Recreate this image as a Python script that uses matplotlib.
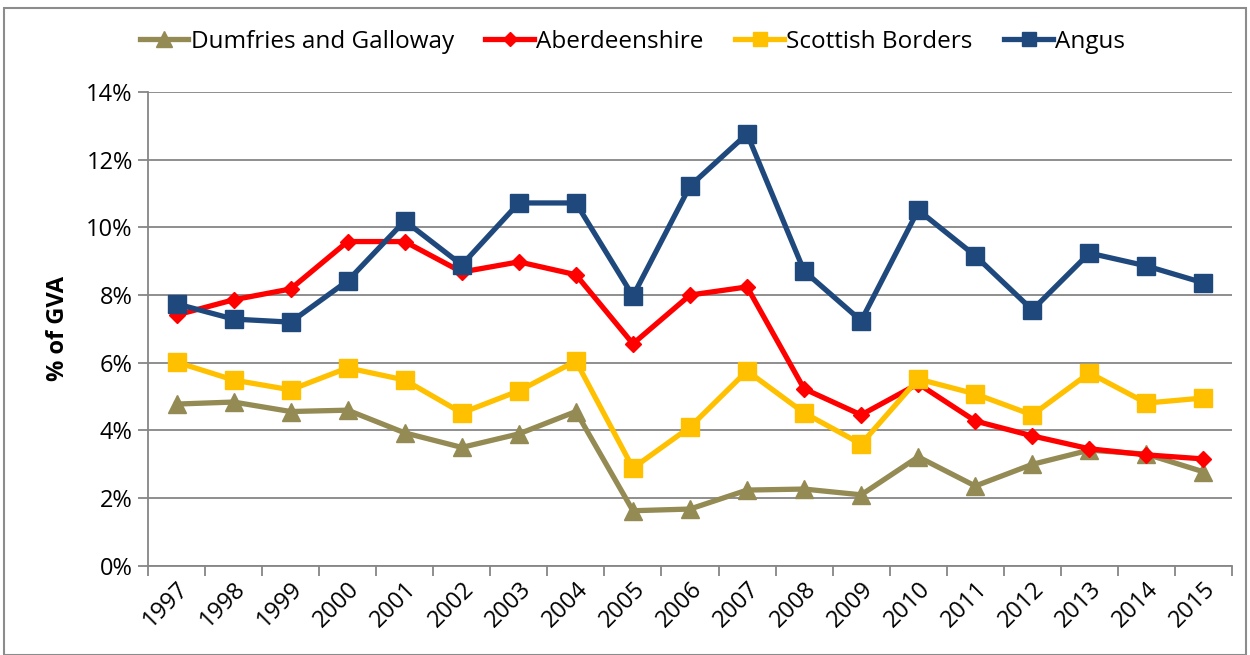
import matplotlib
matplotlib.use("Agg")
import matplotlib.pyplot as plt
from matplotlib.patches import Rectangle
from matplotlib.ticker import FuncFormatter, MultipleLocator

years = [str(y) for y in range(1997, 2016)]

dumfries = [4.78, 4.84, 4.56, 4.60, 3.93, 3.50, 3.90, 4.56, 1.63, 1.68,
            2.24, 2.27, 2.10, 3.22, 2.36, 3.00, 3.42, 3.30, 2.78]
aberdeenshire = [7.41, 7.86, 8.18, 9.58, 9.58, 8.68, 8.98, 8.60, 6.56, 8.00,
                 8.24, 5.23, 4.46, 5.38, 4.28, 3.84, 3.46, 3.28, 3.16]
borders = [6.02, 5.49, 5.20, 5.85, 5.49, 4.52, 5.17, 6.05, 2.89, 4.10,
           5.76, 4.52, 3.60, 5.52, 5.08, 4.46, 5.70, 4.81, 4.96]
angus = [7.74, 7.29, 7.20, 8.42, 10.19, 8.89, 10.72, 10.72, 7.97, 11.22,
         12.76, 8.71, 7.24, 10.51, 9.16, 7.56, 9.24, 8.86, 8.36]

series_names = ["Dumfries and Galloway", "Aberdeenshire", "Scottish Borders", "Angus"]

plt.rcParams['font.family'] = ['Open Sans', 'DejaVu Sans']

fig = plt.figure(figsize=(12.5, 6.55), dpi=100)
ax = fig.add_axes([0.1184, 0.136, 0.8672, 0.7237])

x = list(range(len(years)))
grid_c = "#868686"

ax.plot(x, dumfries, color="#948A54", lw=3.8, marker="^", ms=13,
        label=series_names[0], zorder=3)
ax.plot(x, aberdeenshire, color="#FF0000", lw=3.8, marker="D", ms=8,
        label=series_names[1], zorder=4)
ax.plot(x, borders, color="#FFC000", lw=3.8, marker="s", ms=12.5,
        label=series_names[2], zorder=5)
ax.plot(x, angus, color="#1F497D", lw=3.8, marker="s", ms=12.5,
        label=series_names[3], zorder=6)

ax.set_xlim(-0.5, len(years) - 0.5)
ax.set_ylim(0, 14)
ax.yaxis.set_major_locator(MultipleLocator(2))
ax.yaxis.set_major_formatter(FuncFormatter(lambda v, p: f"{v:.0f}%"))
ax.grid(axis="y", color=grid_c, lw=1.3, zorder=0)
ax.set_axisbelow(True)

ax.set_xticks(x)
ax.set_xticklabels(years, rotation=45, ha="right", rotation_mode="anchor",
                   fontsize=17)
ax.tick_params(axis="x", length=0, pad=8)
ax.set_xticks([i - 0.5 for i in range(len(years) + 1)], minor=True)
ax.tick_params(axis="x", which="minor", length=7, width=1.3, color=grid_c,
               direction="out")
ax.tick_params(axis="y", labelsize=17, length=7, width=1.3, color=grid_c,
               direction="out", pad=4)

for s in ("top", "right"):
    ax.spines[s].set_visible(False)
for s in ("left", "bottom"):
    ax.spines[s].set_color(grid_c)
    ax.spines[s].set_linewidth(1.3)

ax.set_ylabel("% of GVA", fontsize=17, fontweight="bold", labelpad=12)

leg = fig.legend(loc="center", bbox_to_anchor=(0.506, 0.936), ncol=4,
                 frameon=False, fontsize=17.5, handlelength=2.0,
                 handletextpad=0.1, columnspacing=1.3, markerscale=0.85)

fig.add_artist(Rectangle((0.003, 0.0), 0.994, 0.988, transform=fig.transFigure,
                         fill=False, edgecolor="#8C8C8C", lw=1.5))

fig.savefig("out.png", dpi=100)
